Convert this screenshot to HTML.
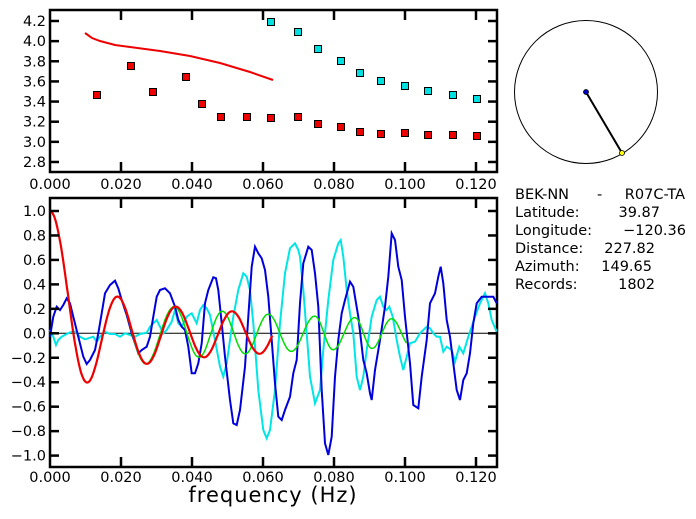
<!DOCTYPE html>
<html><head><meta charset="utf-8"><style>
html,body{margin:0;padding:0;background:#fff;}
svg{display:block;}
text{font-family:"DejaVu Sans","Liberation Sans",sans-serif;white-space:pre;}
</style></head><body>
<svg id="s" width="696" height="519" viewBox="0 0 696 519" xmlns="http://www.w3.org/2000/svg">
<rect width="696" height="519" fill="#fff"/>
<g id="top"></g>
<rect x="50" y="10" width="447" height="162" fill="none" stroke="#000" stroke-width="2.5"/>
<rect x="50" y="198" width="447" height="269" fill="none" stroke="#000" stroke-width="2.5"/>
<line x1="50" y1="333.3" x2="497" y2="333.3" stroke="#000" stroke-width="1"/>
<g id="bot"></g>
<g id="ticks" stroke="#000" stroke-width="2.5"></g>
<g id="labels" font-size="14.5" fill="#000"></g>
<text x="273" y="502" font-size="21" text-anchor="middle" letter-spacing="1">frequency (Hz)</text>
<circle cx="586" cy="92" r="71.5" fill="none" stroke="#000" stroke-width="1"/>
<line x1="586" y1="92" x2="622" y2="153" stroke="#000" stroke-width="2"/>
<circle cx="586" cy="92" r="2.5" fill="#0000cc" stroke="#000" stroke-width="0.8"/>
<circle cx="622" cy="153" r="2.5" fill="#ffff00" stroke="#000" stroke-width="0.8"/>
<g font-size="14.5" fill="#000">
<text x="515" y="199">BEK-NN</text><text x="597" y="199">-</text><text x="685" y="199" text-anchor="end">R07C-TA</text>
<text x="515" y="217">Latitude:</text><text x="660" y="217" text-anchor="end">39.87</text>
<text x="515" y="235">Longitude:</text><text x="686" y="235" text-anchor="end">−120.36</text>
<text x="515" y="253">Distance:</text><text x="655" y="253" text-anchor="end">227.82</text>
<text x="515" y="271">Azimuth:</text><text x="652" y="271" text-anchor="end">149.65</text>
<text x="515" y="289">Records:</text><text x="655" y="289" text-anchor="end">1802</text>
</g>
</svg>
<script>
var NS="http://www.w3.org/2000/svg";
function el(p,t,a){var e=document.createElementNS(NS,t);for(var k in a)e.setAttribute(k,a[k]);document.getElementById(p).appendChild(e);return e;}
function X(f){return 50+3550*f;}
function YB(v){return 333.3-122.3*v;}
function YT(v){return 21+(4.2-v)*100.7;}
function J0(x){var s=0,t=1;for(var k=0;k<60;k++){if(k>0)t*=-(x*x/4)/(k*k);s+=t;if(Math.abs(t)<1e-12)break;}return s;}
function J0a(x){if(x<20)return J0(x);return Math.sqrt(2/(Math.PI*x))*Math.cos(x-Math.PI/4);}
el("top","polyline",{points:"85,33 92,38 100,41 115,45 130,47 160,51 190,56 220,63 250,72 273,80",fill:"none",stroke:"#ee0000","stroke-width":2});
var red=[[97,95],[131,66],[153,92],[186,77],[202,104],[221,117],[247,117],[271,118],[298,117],[318,124],[341,127],[360,132],[381,134],[405,133],[428,135],[453,135],[477,136]];
red.forEach(function(p){el("top","line",{x1:p[0]-4,x2:p[0]+4,y1:p[1],y2:p[1],stroke:"#000","stroke-width":1});el("top","rect",{x:p[0]-3.5,y:p[1]-3.5,width:7,height:7,fill:"#ee0000",stroke:"#000","stroke-width":1});});
var cy=[[271,22],[298,32],[318,49],[341,61],[360,73],[381,81],[405,86],[428,91],[453,95],[477,99]];
cy.forEach(function(p){el("top","rect",{x:p[0]-3.5,y:p[1]-3.5,width:7,height:7,fill:"#00e0e0",stroke:"#000","stroke-width":1});});
function z2(a){return a.map(function(p){return (p[0]/3).toFixed(1)+","+(190+p[1]/3).toFixed(1);});}
function z3(a){return a.map(function(p){return (300+p[0]/3).toFixed(1)+","+(190+p[1]/3).toFixed(1);});}
var cyan2=[[150,420],[160,440],[168,465],[175,450],[185,440],[200,432],[215,425],[225,425],[240,440],[255,448],[265,445],[280,440],[290,455],[300,440],[315,425],[330,432],[345,432],[360,440],[375,430],[390,435],[405,440],[420,432],[440,428],[450,410],[460,400],[470,390],[480,410],[490,430],[500,420],[515,395],[525,360],[535,400],[545,410],[560,380],[575,370],[590,400],[600,360],[610,345],[620,355],[630,375],[645,450],[660,530],[670,560],[680,520],[690,450],[700,380],[715,300],[730,250],[740,260],[750,300],[760,400],[775,600],[790,720],[800,745],[810,720],[825,600],[840,400],[855,250],[870,175],[885,160],[895,180]];
var cyan3=[[0,200],[10,300],[20,430],[30,560],[45,640],[60,600],[70,480],[85,330],[100,210],[115,160],[122,150],[130,200],[140,300],[150,370],[160,430],[170,560],[180,600],[190,560],[200,480],[215,380],[230,330],[240,320],[250,350],[260,360],[268,350],[278,380],[290,450],[300,500],[310,540],[320,500],[330,460],[345,455],[360,430],[380,410],[390,415],[400,430],[410,440],[420,440],[430,485],[440,470],[455,480],[465,515],[478,470],[490,490],[505,440],[515,410],[525,380],[540,340],[555,310],[565,340],[575,390],[590,425]];
var blue2=[[150,440],[160,380],[170,350],[180,360],[190,345],[200,325],[210,340],[220,380],[235,440],[250,500],[260,522],[270,510],[285,480],[295,430],[305,370],[315,310],[330,285],[345,272],[355,295],[365,330],[380,375],[395,430],[405,460],[415,490],[425,480],[440,470],[450,440],[460,380],[470,320],[480,300],[495,295],[510,310],[525,350],[535,390],[545,410],[555,420],[565,470],[575,550],[585,550],[595,520],[605,460],[615,340],[625,300],[640,262],[648,265],[655,300],[665,400],[675,500],[690,630],[700,700],[710,705],[720,660],[735,530],[745,380],[755,230],[765,170],[775,190],[785,205],[795,240],[805,320],[815,450],[825,580],[835,680],[845,690],[855,660],[870,620],[880,550],[890,510],[900,340]];
var blue3=[[10,220],[25,170],[35,180],[45,250],[55,350],[65,600],[75,760],[85,795],[95,740],[105,560],[115,450],[125,370],[135,330],[150,275],[160,290],[175,380],[190,510],[200,550],[210,610],[215,630],[225,540],[240,450],[255,350],[265,260],[275,130],[285,150],[295,230],[305,270],[315,380],[330,520],[340,645],[355,655],[365,560],[380,450],[390,340],[405,310],[415,260],[422,230],[430,280],[440,390],[450,440],[460,520],[470,600],[480,630],[490,570],[500,550],[510,490],[520,400],[530,340],[545,320],[560,320],[580,320],[590,340]];
el("bot","polyline",{points:z2(cyan2).concat(z3(cyan3)).join(" "),fill:"none",stroke:"#00e5e5","stroke-width":2});
el("bot","polyline",{points:z2(blue2).concat(z3(blue3)).join(" "),fill:"none",stroke:"#0000dd","stroke-width":2});
var gk=[[0,0],[0.0105,3.83],[0.019,7.016],[0.027,10.17],[0.035,13.32],[0.042,16.47],[0.0485,19.6],[0.055,22.76],[0.0615,25.9],[0.068,29.05],[0.0746,32.2],[0.0797,35.3],[0.0859,38.5],[0.0907,41.6],[0.0963,44.8],[0.102,48]];
function garg(f){for(var i=1;i<gk.length;i++){if(f<=gk[i][0]){var a=gk[i-1],b=gk[i];return a[1]+(b[1]-a[1])*(f-a[0])/(b[0]-a[0]);}}return 48;}
var gp=[];for(var f=0.005;f<=0.1005;f+=0.0002){gp.push(X(f).toFixed(1)+","+YB(J0a(garg(f))).toFixed(1));}
el("bot","polyline",{points:gp.join(" "),fill:"none",stroke:"#00dd00","stroke-width":1.5});
var rp=[];for(var f=0;f<=0.0626;f+=0.0002){rp.push(X(f).toFixed(1)+","+YB(J0a(362*f+400*f*f)).toFixed(1));}
el("bot","polyline",{points:rp.join(" "),fill:"none",stroke:"#ee0000","stroke-width":2.2});
var xs=["0.000","0.020","0.040","0.060","0.080","0.100","0.120"];
xs.forEach(function(s,i){var x=X(i*0.02);
 if(i>0){el("ticks","line",{x1:x,x2:x,y1:10,y2:20});el("ticks","line",{x1:x,x2:x,y1:162,y2:172});
 el("ticks","line",{x1:x,x2:x,y1:198,y2:208});el("ticks","line",{x1:x,x2:x,y1:457,y2:467});}
 var t=el("labels","text",{x:x,y:189,"text-anchor":"middle"});t.textContent=s;
 var t2=el("labels","text",{x:x,y:482,"text-anchor":"middle"});t2.textContent=s;});
for(var v=2.8;v<=4.21;v+=0.2){var y=YT(v);el("ticks","line",{x1:50,x2:59,y1:y,y2:y});el("ticks","line",{x1:488,x2:497,y1:y,y2:y});
 var t=el("labels","text",{x:46,y:y+5,"text-anchor":"end"});t.textContent=v.toFixed(1);}
for(var k=-5;k<=5;k++){var v=k*0.2,y=YB(v);el("ticks","line",{x1:50,x2:59,y1:y,y2:y});el("ticks","line",{x1:488,x2:497,y1:y,y2:y});
 var t=el("labels","text",{x:46,y:y+5,"text-anchor":"end"});t.textContent=(k<0?"−":"")+Math.abs(v).toFixed(1);}
</script>
</body></html>
